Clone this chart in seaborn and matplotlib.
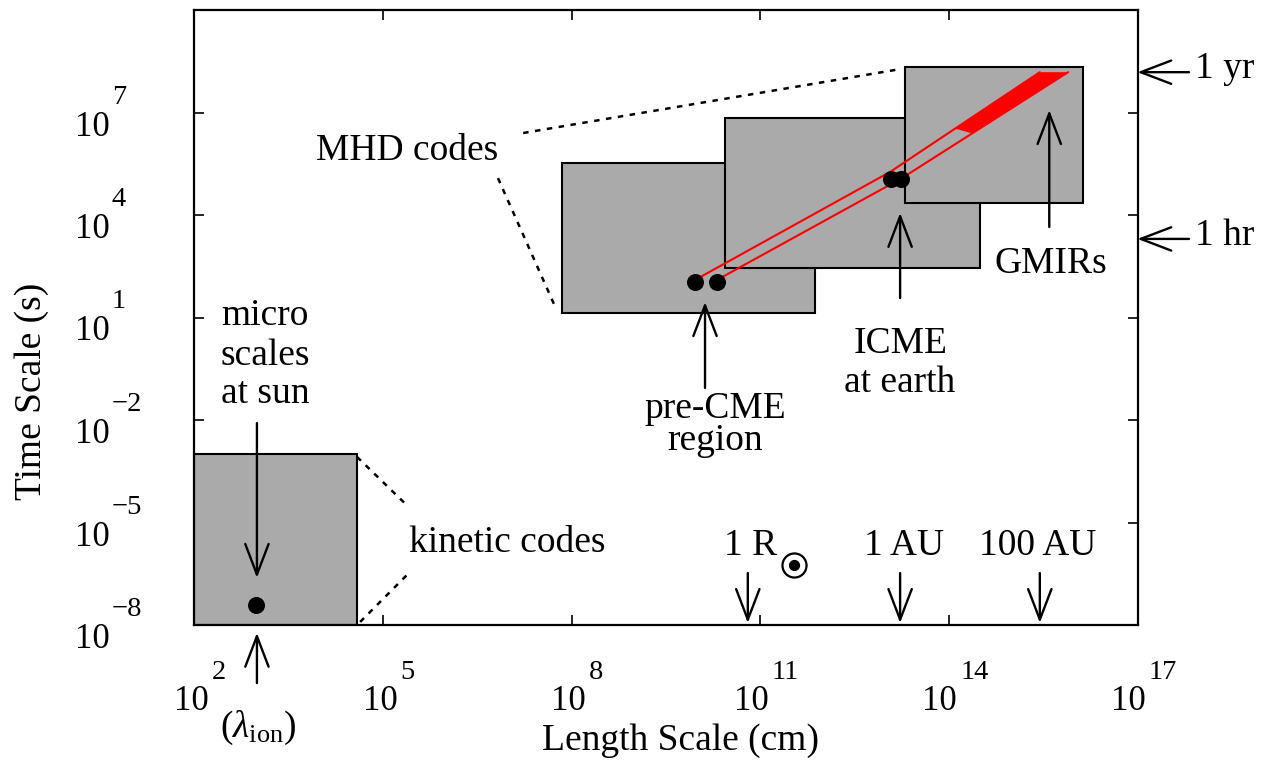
import numpy as np
import pandas as pd
import matplotlib
matplotlib.use("Agg")
import matplotlib.pyplot as plt
from matplotlib.patches import Rectangle
import seaborn as sns

# ---- values (log10 of length in cm / time in s) ----
x_tick_exp = [2, 5, 8, 11, 14, 17]
y_tick_exp = [-8, -5, -2, 1, 4, 7]

# simulation domains: [length lo, length hi] x [time lo, time hi]
box_names = ["kinetic", "MHD 1", "MHD 2", "MHD 3"]
box_len_lo = [2.00, 7.85, 10.44, 13.30]
box_len_hi = [4.59, 11.87, 14.49, 16.13]
box_time_lo = [-8.00, 1.13, 2.45, 4.35]
box_time_hi = [-3.00, 5.52, 6.84, 8.33]

# characteristic events
dot_len = [2.99, 9.96, 10.31, 13.08, 13.24]
dot_time = [-7.41, 2.04, 2.04, 5.05, 5.05]

# propagation tracks from the pre-CME region out to GMIRs
track_a_len = [10.07, 13.06, 15.44]
track_a_time = [2.21, 5.26, 8.18]
track_b_len = [10.39, 13.25, 15.89]
track_b_time = [2.18, 5.08, 8.18]
# spread of the tracks at large distances
fan_len = [14.09, 15.44, 15.89, 14.36]
fan_time = [6.53, 8.18, 8.18, 6.39]

# reference length marks (1 R_sun, 1 AU, 100 AU)
ref_len_labels = ["1 R", "1 AU", "100 AU"]
ref_len_exp = [10.80, 13.22, 15.44]
# reference time marks
ref_time_labels = ["1 yr", "1 hr"]
ref_time_exp = [8.18, 3.30]

sun_len, sun_time = 11.53, -6.24

P = lambda v: 10.0 ** np.asarray(v, dtype=float)

sns.set_theme(style="ticks")
plt.rcParams["font.family"] = ["Liberation Serif", "DejaVu Serif"]
plt.rcParams["mathtext.fontset"] = "custom"
plt.rcParams["mathtext.rm"] = "Liberation Serif"
plt.rcParams["mathtext.it"] = "Liberation Serif:italic"
plt.rcParams["text.color"] = "black"
plt.rcParams["axes.labelcolor"] = "black"

fig = plt.figure(figsize=(12.66, 7.63), dpi=100)
ax = fig.add_axes([194 / 1266, 138 / 763, 944 / 1266, 615 / 763])
ax.set_xscale("log")
ax.set_yscale("log")
ax.set_xlim(P(2), P(17))
ax.set_ylim(P(-8), P(10))
ax.set_facecolor("white")

for s in ax.spines.values():
    s.set_linewidth(1.6)
    s.set_color("black")
ax.set_xticks(P(x_tick_exp))
ax.set_yticks(P(y_tick_exp))
ax.minorticks_off()
ax.tick_params(which="major", direction="in", top=True, right=True,
               length=7, width=1.2, color="black",
               labelbottom=False, labelleft=False)

TXT = 27
TICK = 25
EXPO = 20.5

# tick labels in "10" + raised exponent form
def exp_str(e):
    return str(e).replace("-", "\u2212")

for e in x_tick_exp:
    s = exp_str(e)
    w_exp = 13 * len(s)
    total = 35 + 3 + w_exp
    right_of_10 = 5 - total / 2 + 35
    ax.annotate("10", xy=(P(e), 0), xycoords=("data", "axes fraction"),
                xytext=(right_of_10, -85), textcoords="offset pixels",
                ha="right", va="baseline", fontsize=TICK, annotation_clip=False)
    ax.annotate(s, xy=(P(e), 0), xycoords=("data", "axes fraction"),
                xytext=(right_of_10 + 3, -54), textcoords="offset pixels",
                ha="left", va="baseline", fontsize=EXPO, annotation_clip=False)

for e in y_tick_exp:
    s = exp_str(e)
    ax.annotate("10", xy=(0, P(e)), xycoords=("axes fraction", "data"),
                xytext=(-84, -23), textcoords="offset pixels",
                ha="right", va="baseline", fontsize=TICK, annotation_clip=False)
    ax.annotate(s, xy=(0, P(e)), xycoords=("axes fraction", "data"),
                xytext=(-82, 9), textcoords="offset pixels",
                ha="left", va="baseline", fontsize=EXPO, annotation_clip=False)

fig.text(680 / 1266, 1 - 750 / 763, "Length Scale (cm)", ha="center",
         va="baseline", fontsize=TXT)
fig.text(32 / 1266, 1 - 391 / 763, "Time Scale (s)", ha="center",
         va="center", rotation=90, fontsize=TXT)

# simulation domain boxes
for i in range(len(box_names)):
    x0, x1 = P(box_len_lo[i]), P(box_len_hi[i])
    y0, y1 = P(box_time_lo[i]), P(box_time_hi[i])
    ax.add_patch(Rectangle((x0, y0), x1 - x0, y1 - y0, facecolor="#aaaaaa",
                           edgecolor="black", lw=1.5, zorder=1 + 0.1 * i))

# dashed leader lines to the labels
dash = dict(color="black", lw=1.8, ls=(0, (2.2, 2.6)), zorder=2)
ax.plot(P([7.23, 13.22]), P([6.40, 8.27]), **dash)
ax.plot(P([6.83, 7.74]), P([5.08, 1.31]), **dash)
ax.plot(P([4.59, 5.38]), P([-3.08, -4.49]), **dash)
ax.plot(P([4.64, 5.43]), P([-7.91, -6.45]), **dash)

# red tracks and the widening fan at the top
tracks = pd.DataFrame({
    "length": np.concatenate([P(track_a_len), P(track_b_len)]),
    "time": np.concatenate([P(track_a_time), P(track_b_time)]),
    "track": ["a"] * len(track_a_len) + ["b"] * len(track_b_len),
})
sns.lineplot(data=tracks, x="length", y="time", units="track", estimator=None,
             sort=False, color="red", lw=1.5, ax=ax, zorder=3, legend=False)
ax.fill(P(fan_len), P(fan_time), color="red", lw=0, zorder=3)

dots = pd.DataFrame({"length": P(dot_len), "time": P(dot_time)})
sns.scatterplot(data=dots, x="length", y="time", s=150, color="black",
                edgecolor="black", linewidth=0, ax=ax, zorder=4, legend=False)

# solar symbol
ax.scatter([P(sun_len)], [P(sun_time)], s=300, facecolor="white",
           edgecolor="black", linewidth=1.6, zorder=4)
ax.scatter([P(sun_len)], [P(sun_time)], s=50, color="black", zorder=5)

ax.set_xlabel("")
ax.set_ylabel("")


def arrow(x0, y0, x1, y1):
    ax.annotate("", xy=(P(x1), P(y1)), xytext=(P(x0), P(y0)),
                arrowprops=dict(arrowstyle="->,head_length=1.1,head_width=0.42",
                                lw=1.7, color="black", shrinkA=0, shrinkB=0,
                                mutation_scale=20),
                annotation_clip=False, zorder=6)


def label(x, y, s, **kw):
    ax.text(P(x), P(y), s, ha="center", va="baseline", fontsize=TXT,
            clip_on=False, zorder=6, **kw)


label(5.385, 5.61, "MHD codes")
label(6.97, -5.86, "kinetic codes")
label(3.13, 0.78, "micro")
label(3.13, -0.39, "scales")
label(3.13, -1.50, "at sun")
arrow(3.00, -2.09, 3.00, -6.62)
label(3.02, -11.28, r"($\lambda_{\mathrm{ion}}$)")
arrow(3.00, -9.70, 3.00, -8.23)

label(10.28, -1.94, "pre-CME")
label(10.28, -2.88, "region")
arrow(10.12, -1.06, 10.12, 1.45)
label(13.22, -0.04, "ICME")
label(13.22, -1.18, "at earth")
arrow(13.22, 1.57, 13.22, 4.06)
label(15.62, 2.30, "GMIRs")
arrow(15.59, 3.65, 15.59, 7.07)

for lab, xe, xt in zip(ref_len_labels, ref_len_exp, [10.85, 13.28, 15.40]):
    label(xt, -5.95, lab)
    arrow(xe, -6.48, xe, -7.94)

for lab, ye, yt in zip(ref_time_labels, ref_time_exp, [8.01, 3.12]):
    ax.text(P(17.90), P(yt), lab, ha="left", va="baseline", fontsize=TXT,
            clip_on=False)
    arrow(17.81, ye, 16.99, ye)

fig.savefig("out.png", dpi=100, facecolor="white")
